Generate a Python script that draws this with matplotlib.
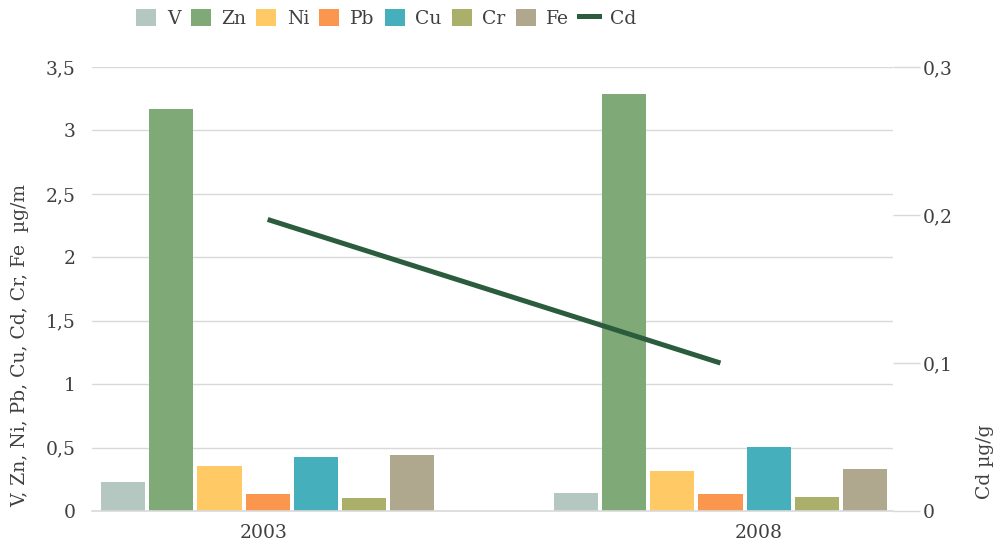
import matplotlib
matplotlib.use('Agg')
import matplotlib.pyplot as plt
from matplotlib.patches import Patch
from matplotlib.lines import Line2D
import numpy as np

plt.rcParams['font.family'] = ['DejaVu Serif']

YEARS   = ['2003', '2008']
METALS  = ['V', 'Zn', 'Ni', 'Pb', 'Cu', 'Cr', 'Fe']
COLORS  = ['#b4c7c1', '#7faa78', '#ffc966', '#fb964f', '#46afbc', '#aaaf69', '#b0a78f']
V_VALS  = [0.23, 0.14]
ZN_VALS = [3.17, 3.29]
NI_VALS = [0.355, 0.315]
PB_VALS = [0.134, 0.134]
CU_VALS = [0.425, 0.505]
CR_VALS = [0.10, 0.11]
FE_VALS = [0.44, 0.33]
CD_VALS = [0.197, 0.10]   # secondary axis
LEFT_TICKS  = [0, 0.5, 1, 1.5, 2, 2.5, 3, 3.5]
RIGHT_TICKS = [0, 0.1, 0.2, 0.3]

series = [V_VALS, ZN_VALS, NI_VALS, PB_VALS, CU_VALS, CR_VALS, FE_VALS]

TXT = '#404040'
GRID = '#d9d9d9'
FS = 13.5

fig = plt.figure(figsize=(10.03, 5.53), dpi=100)
ax = fig.add_axes([0.0917, 0.0759, 0.7986, 0.8029])

x = np.arange(len(YEARS))
pitch = 0.1064
width = 0.0976
for i, (name, vals, c) in enumerate(zip(METALS, series, COLORS)):
    off = (i - (len(METALS) - 1) / 2) * pitch
    ax.bar(x + off, vals, width=width, color=c, zorder=2)

ax.set_xlim(-0.388, 1.381)
ax.set_ylim(0, 3.5)
ax.set_yticks(LEFT_TICKS)
ax.set_yticklabels([f'{t:g}'.replace('.', ',') for t in LEFT_TICKS])
ax.yaxis.grid(True, color=GRID, linewidth=1.0, zorder=0)
ax.set_axisbelow(True)
ax.tick_params(axis='y', length=0, pad=12, labelsize=FS, labelcolor=TXT)
ax.set_xticks([-0.01, 1.084])
ax.set_xticklabels(YEARS)
ax.tick_params(axis='x', length=0, pad=9, labelsize=FS, labelcolor=TXT)
for s in ['top', 'right', 'left']:
    ax.spines[s].set_visible(False)
ax.spines['bottom'].set_color(GRID)
ax.spines['bottom'].set_linewidth(1.2)

ax2 = ax.twinx()
ax2.plot(x, CD_VALS, color='#2b5c3d', linewidth=3.6, solid_capstyle='butt', zorder=3)
ax2.set_ylim(0, 0.3)
ax2.set_yticks(RIGHT_TICKS)
ax2.set_yticklabels([f'{t:g}'.replace('.', ',') for t in RIGHT_TICKS])
ax2.tick_params(axis='y', length=19.5, width=1.0, color=GRID, pad=2,
                labelsize=FS, labelcolor=TXT)
for s in ['top', 'right', 'left', 'bottom']:
    ax2.spines[s].set_visible(False)

fig.text(0.02, 0.376, 'V, Zn, Ni, Pb, Cu, Cd, Cr, Fe  µg/m', rotation=90,
         ha='center', va='center', fontsize=FS, color=TXT)
fig.text(0.982, 0.165, 'Cd µg/g', rotation=90,
         ha='center', va='center', fontsize=FS, color=TXT)

handles = [Patch(facecolor=c, label=m) for m, c in zip(METALS, COLORS)]
handles.append(Line2D([0], [0], color='#2b5c3d', linewidth=3.6, label='Cd'))
fig.legend(handles=handles, loc='center', bbox_to_anchor=(0.385, 0.967), ncol=8,
           frameon=False, fontsize=FS, handlelength=1.07, handleheight=1.07,
           handletextpad=0.55, columnspacing=0.55, labelcolor=TXT)

fig.savefig('out.png', dpi=100)
